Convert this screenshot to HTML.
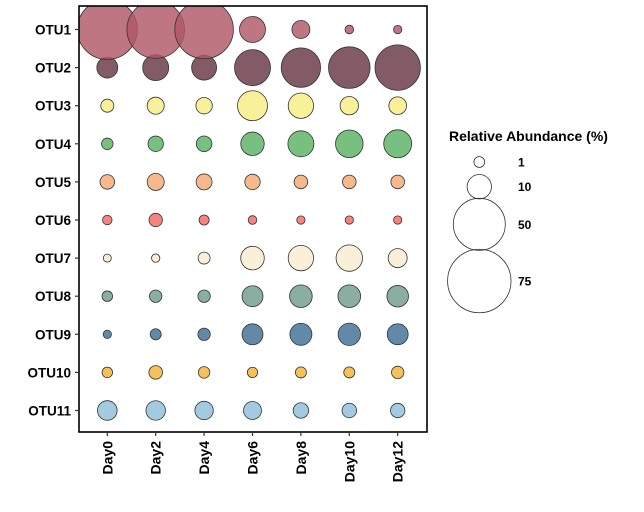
<!DOCTYPE html>
<html><head><meta charset="utf-8"><style>
body{margin:0;background:#fff;}
svg{display:block;font-family:"Liberation Sans",Arial,sans-serif;}
</style></head><body>
<svg id="chart" width="644" height="512" viewBox="0 0 644 512">
<defs><clipPath id="pc"><rect x="79" y="6" width="348" height="426"/></clipPath></defs>
<g id="marks" clip-path="url(#pc)"></g>
<rect x="79" y="6" width="348" height="426" fill="none" stroke="#000" stroke-width="1.6"/>
<g id="axes"></g>
<g id="legend">
<text x="449" y="141" font-size="14" font-weight="bold">Relative Abundance (%)</text>
</g>
</svg>
<script>
const days = ["Day0","Day2","Day4","Day6","Day8","Day10","Day12"];
const otus = ["OTU1","OTU2","OTU3","OTU4","OTU5","OTU6","OTU7","OTU8","OTU9","OTU10","OTU11"];
const colors = ["#af5866","#683744","#f8f19a","#78c07f","#f5b98b","#f58480","#faf0da","#8aada4","#6389a8","#f7c15a","#a2cbe2"];
const otu1 = [67,61.6,63.8,11.6,4.9,0.2,0.1];
const otu2 = [7.1,11.6,10.6,23.3,28.2,31.6,37.8];
const otu3 = [2.0,4.3,3.9,15.8,11,5.2,4.7];
const otu4 = [1.3,3.3,3.4,9.2,11.6,13.2,13.6];
const otu5 = [2.8,4.3,3.6,3.3,2.3,2.3,2.3];
const otu6 = [0.5,2.2,0.7,0.2,0.1,0.1,0.1];
const otu7 = [0,0.1,1.5,9.3,11,12,5.6];
const otu8 = [0.9,1.7,1.7,7.1,8.5,8.5,7.6];
const otu9 = [0.1,1.1,1.7,7.1,8,8.3,7.1];
const otu10 = [0.9,2.3,1.3,0.8,1.1,1.1,1.7];
const otu11 = [6.1,6,5.2,4.9,3.3,2.8,2.7];
const legendValues = [1,10,50,75];
const series = [otu1,otu2,otu3,otu4,otu5,otu6,otu7,otu8,otu9,otu10,otu11];
const NS="http://www.w3.org/2000/svg";
function xScale(i){return 107.3+i*48.4;}
function yScale(j){return 29.5+j*38.1;}
function rScale(v){return Math.sqrt(Math.max(0,16+13.2*v));}
const marks=document.getElementById('marks');
const axes=document.getElementById('axes');
const legend=document.getElementById('legend');
for(let j=otus.length-1;j>=0;j--){
  series[j].forEach((v,i)=>{
    const c=document.createElementNS(NS,'circle');
    c.setAttribute('cx',xScale(i));c.setAttribute('cy',yScale(j));c.setAttribute('r',rScale(v));
    c.setAttribute('fill',colors[j]);
    c.setAttribute('fill-opacity',j<2?0.82:1);
    c.setAttribute('stroke','#333');c.setAttribute('stroke-width','0.8');
    
    
    marks.appendChild(c);
  });
}
otus.forEach((o,j)=>{
  const t=document.createElementNS(NS,'text');
  t.setAttribute('x',71);t.setAttribute('y',yScale(j)+5);t.setAttribute('text-anchor','end');
  t.setAttribute('font-size','13.5');t.setAttribute('font-weight','bold');t.textContent=o;
  
  
  axes.appendChild(t);
  const l=document.createElementNS(NS,'line');
  l.setAttribute('x1',75);l.setAttribute('x2',79);l.setAttribute('y1',yScale(j));l.setAttribute('y2',yScale(j));
  l.setAttribute('stroke','#333');l.setAttribute('stroke-width','1.2');
  
  
  axes.appendChild(l);
});
days.forEach((d,i)=>{
  const x=xScale(i);
  const l=document.createElementNS(NS,'line');
  l.setAttribute('x1',x);l.setAttribute('x2',x);l.setAttribute('y1',432);l.setAttribute('y2',436);
  l.setAttribute('stroke','#333');l.setAttribute('stroke-width','1.2');
  
  
  axes.appendChild(l);
  const t=document.createElementNS(NS,'text');
  t.setAttribute('transform','translate('+(x+5)+',441) rotate(-90)');
  t.setAttribute('text-anchor','end');t.setAttribute('font-size','14');t.setAttribute('font-weight','bold');
  t.textContent=d;
  
  
  axes.appendChild(t);
});
const legY=[162,186.7,224.3,281];
legendValues.forEach((v,k)=>{
  const c=document.createElementNS(NS,'circle');
  c.setAttribute('cx',479.3);c.setAttribute('cy',legY[k]);c.setAttribute('r',rScale(v));
  c.setAttribute('fill','none');c.setAttribute('stroke','#333');c.setAttribute('stroke-width','0.8');
  
  
  legend.appendChild(c);
  const t=document.createElementNS(NS,'text');
  t.setAttribute('x',518);t.setAttribute('y',legY[k]+4.5);t.setAttribute('font-size','12');t.setAttribute('font-weight','bold');
  t.textContent=v;
  
  
  legend.appendChild(t);
});
</script>
</body></html>
